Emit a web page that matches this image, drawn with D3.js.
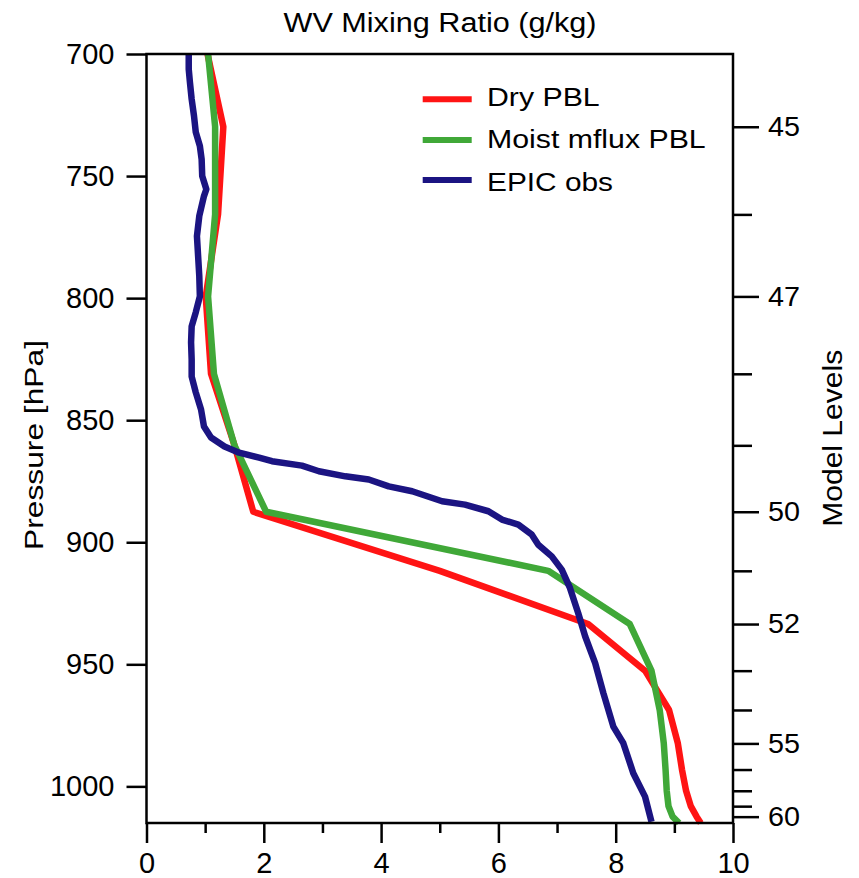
<!DOCTYPE html>
<html>
<head>
<meta charset="utf-8">
<script src="https://cdn.jsdelivr.net/npm/d3@7"></script>
<style>
    body { margin: 0; background: #fff; }
    text { font-family: "Liberation Sans", Arial, Helvetica, sans-serif; fill: #000; }
</style>
</head>
<body>
<div id="root"></div>
<script>
// pressure (hPa) at which each profile value was read
const dryPressure = [700, 729.8, 765.7, 799.3, 831.0, 860.3, 887.5, 911.7, 933.5, 952.6, 968.7, 982.4, 993.1, 1001.8, 1008.1, 1012.4, 1015];
const dryValues = [1.04, 1.31, 1.22, 1.01, 1.10, 1.50, 1.82, 5.00, 7.53, 8.50, 8.91, 9.06, 9.13, 9.20, 9.28, 9.38, 9.45];

const moistPressure = [700, 729.8, 765.7, 799.3, 831.0, 860.3, 887.5, 911.7, 933.5, 952.6, 968.7, 982.4, 993.1, 1001.8, 1008.1, 1012.4, 1015];
const moistValues = [1.05, 1.17, 1.17, 1.05, 1.15, 1.50, 2.04, 6.85, 8.24, 8.61, 8.75, 8.82, 8.85, 8.87, 8.90, 8.97, 9.08];

const obsPressure = [700, 706.2, 711.5, 718.5, 725.4, 732.0, 737.7, 743.1, 750.0, 755.4, 758.2, 766.4, 774.6, 782.8, 791.0, 799.3,
    805.8, 811.6, 818.1, 825.1, 832.1, 838.6, 845.6, 852.6, 857.1, 860.8, 863.3, 865.3, 866.8, 868.6, 870.9, 873.0, 874.3,
    877.1, 879.1, 883.2, 884.6, 887.3, 890.7, 892.8, 896.9, 901.0, 905.8, 911.2, 918.7, 929.0, 938.6, 949.5, 961.8, 975.5,
    982.3, 994.6, 1004.2, 1014.5];
const obsValues = [0.72, 0.72, 0.74, 0.77, 0.81, 0.84, 0.91, 0.94, 0.95, 1.02, 0.98, 0.90, 0.86, 0.88, 0.90, 0.91,
    0.84, 0.77, 0.76, 0.77, 0.77, 0.84, 0.93, 0.98, 1.10, 1.33, 1.58, 1.92, 2.14, 2.65, 2.94, 3.39, 3.79,
    4.13, 4.53, 5.04, 5.43, 5.83, 6.06, 6.34, 6.57, 6.68, 6.91, 7.08, 7.22, 7.36, 7.48, 7.65, 7.79, 7.96,
    8.13, 8.30, 8.50, 8.61];

const seriesNames = ['Dry PBL', 'Moist mflux PBL', 'EPIC obs'];
const seriesColors = ['#ff1414', '#40a838', '#1b1482'];

const pressureTicks = [700, 750, 800, 850, 900, 950, 1000];
const mixingTicks = [0, 2, 4, 6, 8, 10];
const mixingMinorTicks = [1, 3, 5, 7, 9];

// model level positions (hPa) on the right axis, only some carry a label
const levelPressure = [729.8, 765.7, 799.3, 831.0, 860.3, 887.5, 911.7, 933.5, 952.6, 968.7, 982.4, 993.1, 1001.8, 1008.1, 1012.4];
const levelLabels = ['45', '', '47', '', '', '50', '', '52', '', '', '55', '', '', '', '60'];

let width = 859,
    height = 878,
    plotLeft = 146.5,
    plotRight = 733,
    plotTop = 54,
    plotBottom = 823;

let svg = d3.select('#root').append('svg')
    .attr('width', width)
    .attr('height', height);

let x = d3.scaleLinear().domain([0, 10]).range([plotLeft, plotRight]);
let y = d3.scaleLinear().domain([700, 1015]).range([plotTop, plotBottom]);

// profiles
let profiles = [
    { p: dryPressure, v: dryValues },
    { p: moistPressure, v: moistValues },
    { p: obsPressure, v: obsValues }
];

let line = d3.line()
    .x(d => x(d[0]))
    .y(d => y(d[1]));

svg.append('g')
    .attr('class', 'profiles')
    .selectAll('path')
    .data(profiles)
    .enter()
    .append('path')
    .attr('d', d => line(d.v.map((val, i) => [val, d.p[i]])))
    .attr('fill', 'none')
    .attr('stroke', (d, i) => seriesColors[i])
    .attr('stroke-width', 6.5)
    .attr('stroke-linejoin', 'round');

// frame
svg.append('rect')
    .attr('x', plotLeft)
    .attr('y', plotTop)
    .attr('width', plotRight - plotLeft)
    .attr('height', plotBottom - plotTop)
    .attr('fill', 'none')
    .attr('stroke', '#000')
    .attr('stroke-width', 2.5);

// left axis
let leftAxis = svg.append('g')
    .attr('transform', 'translate(' + plotLeft + ',0)')
    .call(d3.axisLeft(y).tickValues(pressureTicks).tickSize(20).tickPadding(12).tickFormat(d3.format('d')));

// bottom axis, major + minor
let bottomAxis = svg.append('g')
    .attr('transform', 'translate(0,' + plotBottom + ')')
    .call(d3.axisBottom(x).tickValues(mixingTicks).tickSize(20).tickPadding(9).tickFormat(d3.format('d')));

svg.append('g')
    .attr('transform', 'translate(0,' + plotBottom + ')')
    .call(d3.axisBottom(x).tickValues(mixingMinorTicks).tickSize(10).tickFormat(''));

// right axis, model levels
let rightAxis = svg.append('g')
    .attr('transform', 'translate(' + plotRight + ',0)')
    .call(d3.axisRight(y).tickValues(levelPressure).tickSize(19).tickPadding(9)
        .tickFormat((d, i) => levelLabels[i]));

rightAxis.selectAll('.tick')
    .filter((d, i) => levelLabels[i] !== '')
    .select('line')
    .attr('x2', 26);

svg.selectAll('.domain').remove();
svg.selectAll('.tick line').attr('stroke', '#000').attr('stroke-width', 2.5);

leftAxis.selectAll('text').style('font-size', '29px');
bottomAxis.selectAll('text').style('font-size', '29px');
rightAxis.selectAll('text')
    .filter((d, i) => levelLabels[i] !== '')
    .attr('x', 35)
    .style('font-size', '27px')
    .attr('textLength', 32)
    .attr('lengthAdjust', 'spacingAndGlyphs');

// title and axis labels
svg.append('text')
    .attr('x', 440)
    .attr('y', 31.7)
    .attr('text-anchor', 'middle')
    .style('font-size', '27px')
    .attr('textLength', 313)
    .attr('lengthAdjust', 'spacingAndGlyphs')
    .text('WV Mixing Ratio (g/kg)');

svg.append('text')
    .attr('transform', 'translate(43.3,445) rotate(-90)')
    .attr('text-anchor', 'middle')
    .style('font-size', '26px')
    .attr('textLength', 210)
    .attr('lengthAdjust', 'spacingAndGlyphs')
    .text('Pressure [hPa]');

svg.append('text')
    .attr('transform', 'translate(841.7,438.3) rotate(-90)')
    .attr('text-anchor', 'middle')
    .style('font-size', '27px')
    .attr('textLength', 177)
    .attr('lengthAdjust', 'spacingAndGlyphs')
    .text('Model Levels');

// legend
let legendLineY = [99.3, 140, 180],
    legendTextY = [106, 148.3, 190.7],
    legendTextLen = [112.7, 218.7, 126];

let legend = svg.append('g')
    .attr('class', 'legend')
    .selectAll('g')
    .data(seriesNames)
    .enter()
    .append('g');

legend.append('line')
    .attr('x1', 422.7)
    .attr('x2', 471.7)
    .attr('y1', (d, i) => legendLineY[i])
    .attr('y2', (d, i) => legendLineY[i])
    .attr('stroke', (d, i) => seriesColors[i])
    .attr('stroke-width', 6);

legend.append('text')
    .attr('x', 487)
    .attr('y', (d, i) => legendTextY[i])
    .style('font-size', '25px')
    .attr('textLength', (d, i) => legendTextLen[i])
    .attr('lengthAdjust', 'spacingAndGlyphs')
    .text(d => d);
</script>
</body>
</html>
